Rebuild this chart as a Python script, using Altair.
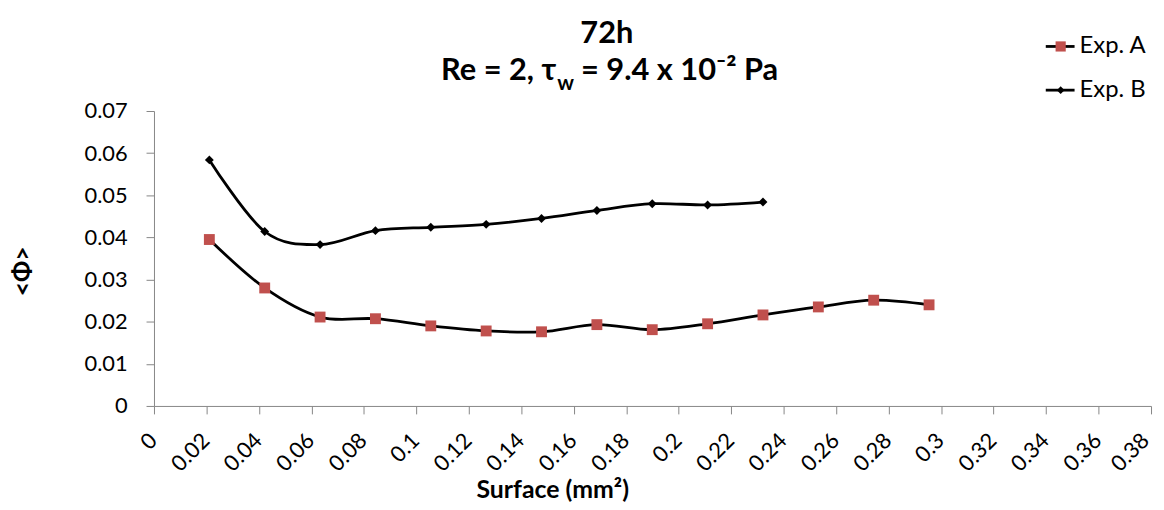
import altair as alt
import pandas as pd

SERIES = ["Exp. A", "Exp. B"]
X_A = [0.0211, 0.0422, 0.0633, 0.0844, 0.1055, 0.1266, 0.1477, 0.1688, 0.1899, 0.2110, 0.2321, 0.2532, 0.2743, 0.2954]
Y_A = [0.0395, 0.0280, 0.0211, 0.0207, 0.0190, 0.0178, 0.0176, 0.0193, 0.0181, 0.0195, 0.0216, 0.0235, 0.0251, 0.0240]
X_B = [0.0211, 0.0422, 0.0633, 0.0844, 0.1055, 0.1266, 0.1477, 0.1688, 0.1899, 0.2110, 0.2321]
Y_B = [0.0584, 0.0414, 0.0383, 0.0416, 0.0424, 0.0431, 0.0445, 0.0464, 0.0480, 0.0477, 0.0484]
X_TICKS = [0, 0.02, 0.04, 0.06, 0.08, 0.1, 0.12, 0.14, 0.16, 0.18, 0.2, 0.22, 0.24, 0.26, 0.28, 0.3, 0.32, 0.34, 0.36, 0.38]
Y_TICKS = [0, 0.01, 0.02, 0.03, 0.04, 0.05, 0.06, 0.07]
TITLE_1 = "72h"
TITLE_2A = "Re = 2, τ"
TITLE_2SUB = "w"
TITLE_2B = "= 9.4 x 10⁻² Pa"
X_TITLE = "Surface (mm²)"
Y_TITLE = "<Φ>"

FONT = "Lato"
GRAY = "#868686"
RED = "#C0504D"

df = pd.concat([
    pd.DataFrame({"series": SERIES[0], "x": X_A, "y": Y_A}),
    pd.DataFrame({"series": SERIES[1], "x": X_B, "y": Y_B}),
], ignore_index=True)

x_enc = alt.X(
    "x:Q",
    scale=alt.Scale(domain=[0, 0.38], nice=False, zero=False),
    axis=alt.Axis(
        values=X_TICKS, format=".2~f", labelAngle=315, labelAlign="right",
        labelBaseline="middle", labelPadding=23,
        labelOffset={"condition": {"test": "datum.value > 0.37", "value": -6}, "value": -1},
        labelFontSize=22,
        labelFont=FONT, labelColor="black", labelFlush=False, labelOverlap=False,
        domainColor=GRAY, tickColor=GRAY, tickSize=8, grid=False,
        title=X_TITLE, titleFont=FONT, titleFontSize=25, titleFontWeight="bold",
        titleColor="black", titleX=401, titleY=84, titleAlign="center",
        titleBaseline="middle",
    ),
)
y_enc = alt.Y(
    "y:Q",
    scale=alt.Scale(domain=[0, 0.07], nice=False),
    axis=alt.Axis(
        values=Y_TICKS, format=".2~f", labelPadding=19, labelFontSize=22,
        labelFont=FONT, labelColor="black", labelFlush=False, labelOverlap=False,
        domainColor=GRAY, tickColor=GRAY, tickSize=8, grid=False,
        title=Y_TITLE, titleFont=FONT, titleFontSize=25, titleFontWeight="bold",
        titleColor="black", titleAngle=270, titleX=-132, titleY=161,
        titleAlign="center", titleBaseline="middle",
    ),
)

lines = alt.Chart(df).mark_line(
    interpolate="cardinal", color="black", strokeWidth=2.8
).encode(x=x_enc, y=y_enc, detail="series:N")

points = alt.Chart(df).mark_point(filled=True, opacity=1).encode(
    x="x:Q", y="y:Q",
    shape=alt.Shape("series:N", scale=alt.Scale(domain=SERIES, range=["square", "diamond"]), legend=None),
    color=alt.Color("series:N", scale=alt.Scale(domain=SERIES, range=[RED, "black"]), legend=None),
    size=alt.Size("series:N", scale=alt.Scale(domain=SERIES, range=[120, 80]), legend=None),
)

dummy = pd.DataFrame({"d": [0]})

def txt(text, x, y, size, align="left", weight="bold", baseline="alphabetic"):
    return alt.Chart(dummy).mark_text(
        text=text, font=FONT, fontSize=size, fontWeight=weight, align=align,
        baseline=baseline, color="black"
    ).encode(x=alt.value(x), y=alt.value(y))

title_layers = [
    txt(TITLE_1, 456, -68, 31, align="center"),
    txt(TITLE_2A, 405, -31, 31, align="right"),
    txt(TITLE_2SUB, 406, -21, 21),
    txt(TITLE_2B, 430, -31, 31),
]

legend_layers = []
for i, name in enumerate(SERIES):
    ly = -65 + 44 * i
    legend_layers.append(
        alt.Chart(dummy).mark_rule(color="black", strokeWidth=2.8).encode(
            x=alt.value(898), x2=alt.value(927), y=alt.value(ly))
    )
    legend_layers.append(
        alt.Chart(dummy).mark_point(
            filled=True, opacity=1,
            shape=["square", "diamond"][i],
            color=[RED, "black"][i],
            size=[105, 60][i],
        ).encode(x=alt.value(913), y=alt.value(ly))
    )
    legend_layers.append(txt(name, 932, ly, 24, weight="normal", baseline="middle"))

chart = alt.layer(lines, points, *title_layers, *legend_layers).properties(
    width=1004, height=297,
    autosize=alt.AutoSizeParams(type="none"),
    padding={"left": 147, "top": 102, "right": 5, "bottom": 95},
).configure_view(stroke=None)

chart.save("out.html", embed_options={"renderer": "svg", "actions": False})
